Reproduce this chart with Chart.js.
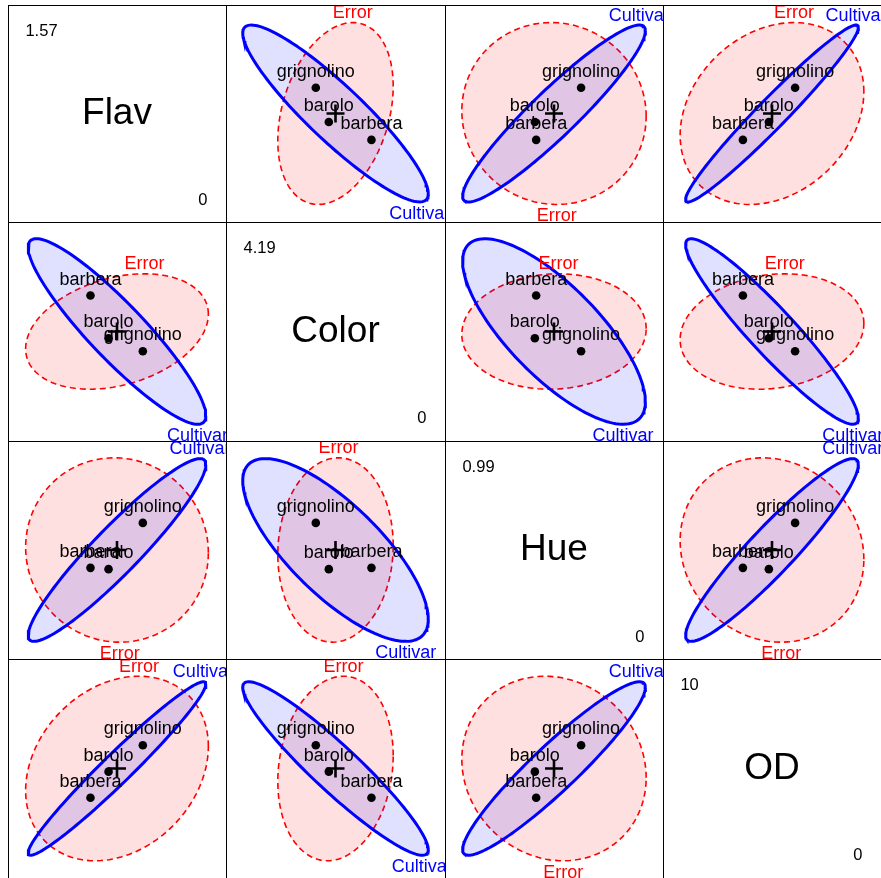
<!DOCTYPE html>
<html>
<head>
<meta charset="utf-8">
<script src="https://cdn.jsdelivr.net/npm/chart.js@4.4.1/dist/chart.umd.min.js"></script>
<style>
  html, body { margin: 0; padding: 0; background: #fff; }
  #grid { position: relative; width: 881px; height: 878px; overflow: hidden; background: #fff; }
  #grid canvas { position: absolute; }
</style>
</head>
<body>
<div id="grid"></div>
<script>
// Response variables and their plotted ranges
const variables = ['Flav', 'Color', 'Hue', 'OD'];
const axisMax = [1.57, 4.19, 0.99, 10];
const axisMaxText = ['1.57', '4.19', '0.99', '10'];
const axisMinText = ['0', '0', '0', '0'];

// Cultivar means for each variable (same order as cultivars)
const cultivars = ['barolo', 'grignolino', 'barbera'];
const flavMeans = [0.724, 0.971, 0.594];
const colorMeans = [1.967, 1.718, 2.783];
const hueMeans = [0.408, 0.618, 0.414];
const odMeans = [4.856, 6.06, 3.665];
const grandMeans = [0.785, 2.095, 0.495, 5.0];

// Error (E) ellipse: scaled standard deviations and correlations
const errorSd = [0.658, 1.104, 0.4186, 4.214];
const errorCor = [
  [1.00, 0.30, -0.03, 0.24],
  [0.30, 1.00, 0.05, 0.14],
  [-0.03, 0.05, 1.00, -0.10],
  [0.24, 0.14, -0.10, 1.00]
];

// Hypothesis (Cultivar) ellipse: scaled standard deviations and correlations
const cultivarSd = [0.640, 1.775, 0.415, 3.962];
const cultivarCor = [
  [1.000, -0.907, 0.934, 0.972],
  [-0.907, 1.000, -0.756, -0.935],
  [0.934, -0.756, 1.000, 0.934],
  [0.972, -0.935, 0.934, 1.000]
];

const meansByVar = [flavMeans, colorMeans, hueMeans, odMeans];

// panel edges of the 4x4 matrix
const cellX = [8, 226, 445, 663, 881];
const cellY = [5, 222, 441, 659, 878];

const FONT = '"Liberation Sans", Arial, Helvetica, sans-serif';
Chart.defaults.font.family = FONT;

function ellipsePoints(i, j, sd, cor) {
  const r = cor[i][j];
  const s = Math.sqrt(1 - r * r);
  const pts = [];
  for (let k = 0; k <= 144; k++) {
    const t = 2 * Math.PI * k / 144;
    pts.push({
      x: grandMeans[i] + sd[i] * Math.cos(t),
      y: grandMeans[j] + sd[j] * (r * Math.cos(t) + s * Math.sin(t))
    });
  }
  return pts;
}

// label anchor: top of the ellipse for positive correlation, bottom otherwise
function ellipseAnchor(i, j, sd, cor) {
  const r = cor[i][j];
  if (r > 0) return { x: grandMeans[i] + r * sd[i], y: grandMeans[j] + sd[j], above: true };
  return { x: grandMeans[i] - r * sd[i], y: grandMeans[j] - sd[j], above: false };
}

const framePlugin = {
  id: 'frame',
  afterDraw(chart) {
    const ctx = chart.ctx;
    ctx.save();
    ctx.strokeStyle = '#000';
    ctx.lineWidth = 1;
    ctx.beginPath();
    ctx.moveTo(0, 0.5); ctx.lineTo(chart.width, 0.5);
    ctx.moveTo(0.5, 0); ctx.lineTo(0.5, chart.height);
    ctx.stroke();
    ctx.restore();
  }
};

const textPlugin = {
  id: 'panelText',
  afterDatasetsDraw(chart, args, opts) {
    const ctx = chart.ctx;
    const xs = chart.scales.x, ys = chart.scales.y;
    ctx.save();
    (opts.items || []).forEach(it => {
      ctx.font = it.size + 'px ' + FONT;
      ctx.fillStyle = it.color;
      ctx.textAlign = it.align || 'center';
      ctx.textBaseline = it.baseline || 'alphabetic';
      const px = xs.getPixelForValue(it.x);
      const py = ys.getPixelForValue(it.y) + (it.dy || 0);
      ctx.fillText(it.text, px, py);
    });
    ctx.restore();
  }
};

const grid = document.getElementById('grid');

function makeCanvas(r, c) {
  const cv = document.createElement('canvas');
  const w = cellX[c + 1] - cellX[c];
  const h = cellY[r + 1] - cellY[r];
  cv.width = w; cv.height = h;
  cv.style.left = cellX[c] + 'px';
  cv.style.top = cellY[r] + 'px';
  cv.style.width = w + 'px';
  cv.style.height = h + 'px';
  grid.appendChild(cv);
  return cv;
}

function baseOptions(xMax, yMax, items) {
  return {
    responsive: false,
    animation: false,
    devicePixelRatio: 1,
    layout: { padding: 0, autoPadding: false },
    events: [],
    scales: {
      x: { type: 'linear', display: false, min: 0, max: xMax },
      y: { type: 'linear', display: false, min: 0, max: yMax }
    },
    plugins: {
      legend: { display: false },
      tooltip: { enabled: false },
      panelText: { items: items }
    }
  };
}

for (let r = 0; r < 4; r++) {
  for (let c = 0; c < 4; c++) {
    const cv = makeCanvas(r, c);
    if (r === c) {
      const items = [
        { text: variables[r], x: 0.5, y: 0.5, size: 37, color: '#000', baseline: 'middle' },
        { text: axisMaxText[r], x: 0.08, y: 0.877, size: 16.5, color: '#000', align: 'left', baseline: 'middle' },
        { text: axisMinText[r], x: 0.894, y: 0.101, size: 16.5, color: '#000', baseline: 'middle' }
      ];
      new Chart(cv, {
        type: 'scatter',
        data: { datasets: [] },
        options: baseOptions(1, 1, items),
        plugins: [textPlugin, framePlugin]
      });
      continue;
    }
    const xi = c, yj = r;
    const xm = meansByVar[xi], ym = meansByVar[yj];
    const groupPts = cultivars.map((g, k) => ({ x: xm[k], y: ym[k] }));
    const eA = ellipseAnchor(xi, yj, errorSd, errorCor);
    const hA = ellipseAnchor(xi, yj, cultivarSd, cultivarCor);
    const items = cultivars.map((g, k) => ({
      text: g, x: xm[k], y: ym[k], dy: -11, size: 18, color: '#000'
    }));
    items.push({ text: 'Error', x: eA.x, y: eA.y, dy: eA.above ? -4.4 : 17, size: 18, color: '#FF0000' });
    items.push({ text: 'Cultivar', x: hA.x, y: hA.y, dy: hA.above ? -4.4 : 17, size: 18, color: '#0000FF' });

    new Chart(cv, {
      type: 'scatter',
      data: {
        datasets: [
          {
            type: 'line', label: 'Error', order: 4,
            data: ellipsePoints(xi, yj, errorSd, errorCor),
            borderColor: '#FF0000', borderWidth: 1.6, borderDash: [6, 4],
            backgroundColor: 'rgba(255,0,0,0.12)', fill: 'shape',
            pointRadius: 0, tension: 0
          },
          {
            type: 'line', label: 'Cultivar', order: 3,
            data: ellipsePoints(xi, yj, cultivarSd, cultivarCor),
            borderColor: '#0000FF', borderWidth: 3,
            backgroundColor: 'rgba(0,0,255,0.12)', fill: 'shape',
            pointRadius: 0, tension: 0
          },
          {
            label: 'means', order: 2,
            data: groupPts,
            pointRadius: 4.3, backgroundColor: '#000', borderWidth: 0
          },
          {
            label: 'grand mean', order: 1,
            data: [{ x: grandMeans[xi], y: grandMeans[yj] }],
            pointStyle: 'cross', pointRadius: 9, borderColor: '#000', borderWidth: 2.6
          }
        ]
      },
      options: baseOptions(axisMax[xi], axisMax[yj], items),
      plugins: [textPlugin, framePlugin]
    });
  }
}
</script>
</body>
</html>
